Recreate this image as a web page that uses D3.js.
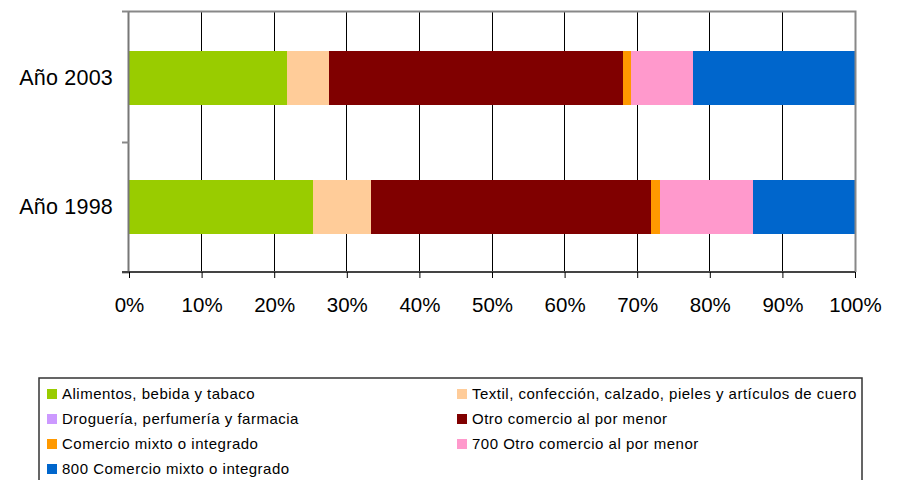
<!DOCTYPE html>
<html lang="es">
<head>
<meta charset="UTF-8">
<title>Comercio al por menor</title>
<script src="https://cdn.jsdelivr.net/npm/d3@7"></script>
<style>
  body { margin: 0; background: #fff; }
  svg text { font-family: "Liberation Sans", Arial, sans-serif; fill: #000; }
</style>
</head>
<body>
<script>
// categories (top to bottom) and stacked shares in percent
const years = ["Año 2003", "Año 1998"];
const series = [
  "Alimentos, bebida y tabaco",
  "Textil, confección, calzado, pieles y artículos de cuero",
  "Droguería, perfumería y farmacia",
  "Otro comercio al por menor",
  "Comercio mixto o integrado",
  "700 Otro comercio al por menor",
  "800 Comercio mixto o integrado"
];
const colors = ["#99cc00", "#ffcc99", "#cc99ff", "#800000", "#ff9900", "#ff99cc", "#0066cc"];
const v2003 = [21.7, 5.8, 0, 40.5, 1.1, 8.6, 22.3];
const v1998 = [25.3, 8.0, 0, 38.6, 1.3, 12.7, 14.1];
const tickValues = [0, 10, 20, 30, 40, 50, 60, 70, 80, 90, 100];

const W = 897, H = 480;
const m = {left: 129, right: 855, top: 11, bottom: 272};

const svg = d3.select("body").append("svg").attr("width", W).attr("height", H);

const x = d3.scaleLinear().domain([0, 100]).range([m.left, m.right]);
const y = d3.scaleBand().domain(years).range([m.top + 1, m.bottom + 1]).paddingInner(0.585).paddingOuter(0.3);

// gridlines
svg.append("g").selectAll("line").data(tickValues.slice(1, -1)).join("line")
  .attr("x1", d => x(d)).attr("x2", d => x(d))
  .attr("y1", m.top).attr("y2", m.bottom)
  .attr("stroke", "#000").attr("stroke-width", 1).attr("shape-rendering", "crispEdges");

// stacked bars
const rows = years.map((yr, i) => {
  const vals = i === 0 ? v2003 : v1998;
  const o = {year: yr};
  series.forEach((s, j) => o[s] = vals[j]);
  return o;
});
const stack = d3.stack().keys(series)(rows);

svg.append("g").selectAll("g").data(stack).join("g")
  .attr("fill", (d, i) => colors[i])
  .selectAll("rect").data(d => d).join("rect")
  .attr("x", d => x(d[0]))
  .attr("width", d => x(d[1]) - x(d[0]))
  .attr("y", d => y(d.data.year))
  .attr("height", y.bandwidth())
  .attr("shape-rendering", "crispEdges");

// plot border: top and right in gray
svg.append("path")
  .attr("d", `M${m.left},${m.top + 0.5}H${m.right + 0.5}V${m.bottom}`)
  .attr("fill", "none").attr("stroke", "#888").attr("stroke-width", 2);

// left axis
const yEdges = [m.top, (m.top + m.bottom) / 2, m.bottom];
svg.append("line").attr("x1", m.left - 0.5).attr("x2", m.left - 0.5)
  .attr("y1", m.top).attr("y2", m.bottom).attr("stroke", "#777").attr("stroke-width", 2);
svg.append("g").selectAll("line").data(yEdges).join("line")
  .attr("x1", m.left - 7).attr("x2", m.left)
  .attr("y1", d => Math.round(d) + 0.5).attr("y2", d => Math.round(d) + 0.5)
  .attr("stroke", "#888").attr("stroke-width", 2);

// bottom axis
const xAxis = svg.append("g").attr("transform", `translate(0,${m.bottom})`)
  .call(d3.axisBottom(x).tickValues(tickValues).tickFormat(d => d + "%").tickSize(6).tickPadding(19));
xAxis.select(".domain").attr("stroke", "#444").attr("stroke-width", 2).attr("d", `M${m.left - 7},0H${m.right}`);
xAxis.selectAll(".tick line").attr("stroke", "#000");
xAxis.selectAll("text").attr("font-size", 20.5).attr("font-family", "Liberation Sans, Arial, sans-serif");

// category labels
svg.append("g").selectAll("text").data(years).join("text")
  .attr("x", 113).attr("y", d => y(d) + y.bandwidth() / 2)
  .attr("text-anchor", "end").attr("dominant-baseline", "central")
  .attr("font-size", 21.5).attr("letter-spacing", 0.2).text(d => d);

// legend
const lg = svg.append("g");
lg.append("rect").attr("x", 39).attr("y", 378).attr("width", 823).attr("height", 120)
  .attr("fill", "none").attr("stroke", "#333").attr("stroke-width", 1.5);
const item = lg.selectAll("g").data(series).join("g")
  .attr("transform", (d, i) => `translate(${i % 2 === 0 ? 47 : 457},${393 + Math.floor(i / 2) * 25})`);
item.append("rect").attr("x", 0).attr("y", -4).attr("width", 10).attr("height", 10)
  .attr("fill", (d, i) => colors[i]);
item.append("text").attr("x", 15).attr("y", 0).attr("dominant-baseline", "central")
  .attr("font-size", 15).attr("letter-spacing", 0.5).text(d => d);
</script>
</body>
</html>
